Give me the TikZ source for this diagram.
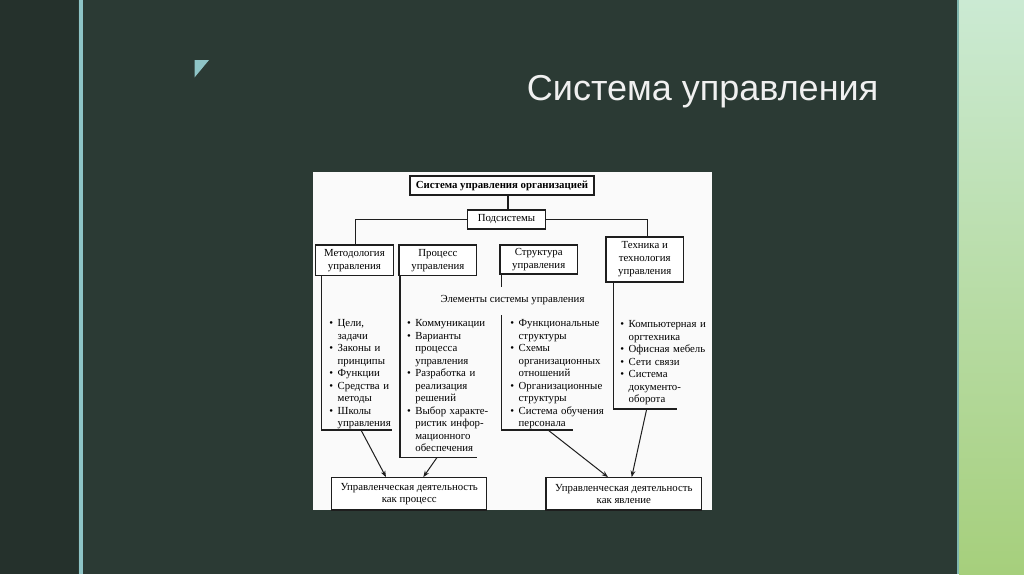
\documentclass[tikz,border=0pt]{standalone}
\usepackage{fontspec}
\setmainfont{Liberation Serif}
\newfontfamily\titlefont{Liberation Sans}
\usetikzlibrary{arrows.meta}
\definecolor{bgmain}{HTML}{2B3A34}
\definecolor{bgleft}{HTML}{25312C}
\definecolor{accent}{HTML}{8EC4C6}
\definecolor{mintt}{HTML}{CBEAD3}
\definecolor{greenb}{HTML}{A6CF7C}
\definecolor{edgeline}{HTML}{7FB5AE}
\definecolor{ink}{HTML}{1E1E1E}
\definecolor{paper}{HTML}{FAFAFA}
\newcommand\mybul{\makebox[4.2pt][l]{\textbullet}}
\newcommand\myind{\hspace*{4.2pt}}
\begin{document}
\begin{tikzpicture}[x=0.5pt,y=-0.5pt,
  box/.style={draw=ink,line width=0.6pt,fill=white,inner sep=0pt,align=center,
    font=\fontsize{5.4}{6.5}\selectfont},
  col/.style={anchor=north west,inner sep=0pt,text width=62pt,align=left,
    font=\fontsize{5.4}{6.25}\selectfont},
  wire/.style={draw=ink,line width=0.55pt},
  arr/.style={draw=ink,line width=0.5pt,-{Stealth[length=3.2pt,width=2.4pt]}}]
\useasboundingbox (0,0) rectangle (1024,574);
% background
\fill[bgmain] (0,0) rectangle (1024,574);
\fill[bgleft] (0,0) rectangle (78,574);
\fill[accent] (78.5,0) rectangle (82.5,574);
\shade[top color=mintt,bottom color=greenb] (959,0) rectangle (1024,574);
\fill[edgeline] (956.7,0) rectangle (959,574);
% corner mark
\fill[accent] (194.5,60) -- (209,60) -- (194.5,77.5) -- cycle;
% title
\node[anchor=base west,inner sep=0pt,text=white!94!black,
  font=\titlefont\fontsize{18}{20}\selectfont] (title) at (526.5,100.5) {Система управления};
% panel
\fill[paper] (313,172) rectangle (711.5,510);
% boxes
\node[box,font=\fontsize{5.4}{6.5}\selectfont\bfseries,minimum width=92pt,minimum height=9.5pt] (top) at (502,185.5) {Система управления организацией};
\node[box,minimum width=39pt,minimum height=9.5pt] (sub) at (506.5,219.5) {Подсистемы};
\node[box,minimum width=38.9pt,minimum height=15.25pt] (meth) at (354.4,260.25) {Методология\\управления};
\node[box,minimum width=38.9pt,minimum height=15.25pt] (proc) at (437.9,260.25) {Процесс\\управления};
\node[box,minimum width=38.7pt,minimum height=14.5pt] (struc) at (538.7,259.5) {Структура\\управления};
\node[box,minimum width=38.75pt,minimum height=22.5pt] (tech) at (644.75,259.5) {Техника и\\технология\\управления};
% tree connectors
\draw[wire] (sub.north -| 508,0) -- (top.south -| 508,0);
\draw[wire] (sub.west) -| ([xshift=0.6pt]meth.north);
\draw[wire] (sub.east) -| ([xshift=1.5pt]tech.north);
% column brackets
\draw[wire] (meth.south -| 321.7,0) |- (391.7,430);
\draw[wire] (proc.south -| 400,0) |- (477,457.5);
\draw[wire] (struc.south -| 501.7,0) |- (572.7,430);
\draw[wire] (tech.south -| 613.3,0) |- (676.7,409);
% label over structure line
\node[anchor=base,inner xsep=1pt,inner ysep=0pt,fill=paper,text height=7.5pt,text depth=6.5pt,
  font=\fontsize{5.4}{6.25}\selectfont] (elem) at (512.5,302) {Элементы системы управления};
% bullet columns
\node[col] (mlist) at (328.9,317.75) {\strut\mybul Цели,\\
  \myind задачи\\ \mybul Законы и\\ \myind принципы\\ \mybul Функции\\
  \mybul Средства и\\ \myind методы\\ \mybul Школы\\ \myind управления};
\node[col] (plist) at (406.6,317.75) {\strut\mybul Коммуникации\\
  \mybul Варианты\\ \myind процесса\\ \myind управления\\
  \mybul Разработка и\\ \myind реализация\\ \myind решений\\
  \mybul Выбор характе-\\ \myind ристик инфор-\\ \myind мационного\\ \myind обеспечения};
\node[col] (slist) at (509.9,317.75) {\strut\mybul Функциональные\\
  \myind структуры\\ \mybul Схемы\\ \myind организационных\\ \myind отношений\\
  \mybul Организационные\\ \myind структуры\\ \mybul Система обучения\\ \myind персонала};
\node[col] (tlist) at (619.9,318.75) {\strut\mybul Компьютерная и\\
  \myind оргтехника\\ \mybul Офисная мебель\\ \mybul Сети связи\\
  \mybul Система\\ \myind документо-\\ \myind оборота};
% bottom boxes
\node[box,minimum width=77.5pt,minimum height=16.15pt,font=\fontsize{5.4}{5.8}\selectfont] (lb) at (409.2,493.85) {Управленческая деятельность\\как процесс};
\node[box,minimum width=77.85pt,minimum height=16.15pt,font=\fontsize{5.4}{5.8}\selectfont] (rb) at (623.85,493.85) {Управленческая деятельность\\как явление};
% arrow ends
\coordinate (mo) at (361,430);
\coordinate (po) at (437,457.5);
\coordinate (so) at (548,430);
\coordinate (to) at (646.7,409);
\coordinate (li1) at (lb.north -| 386,0);
\coordinate (li2) at (lb.north -| 423.3,0);
\coordinate (ri1) at (rb.north -| 608,0);
\coordinate (ri2) at (rb.north -| 631.7,0);
\draw[arr] (mo) -- (li1);
\draw[arr] (po) -- (li2);
\draw[arr] (so) -- (ri1);
\draw[arr] (to) -- (ri2);
\end{tikzpicture}
\end{document}
